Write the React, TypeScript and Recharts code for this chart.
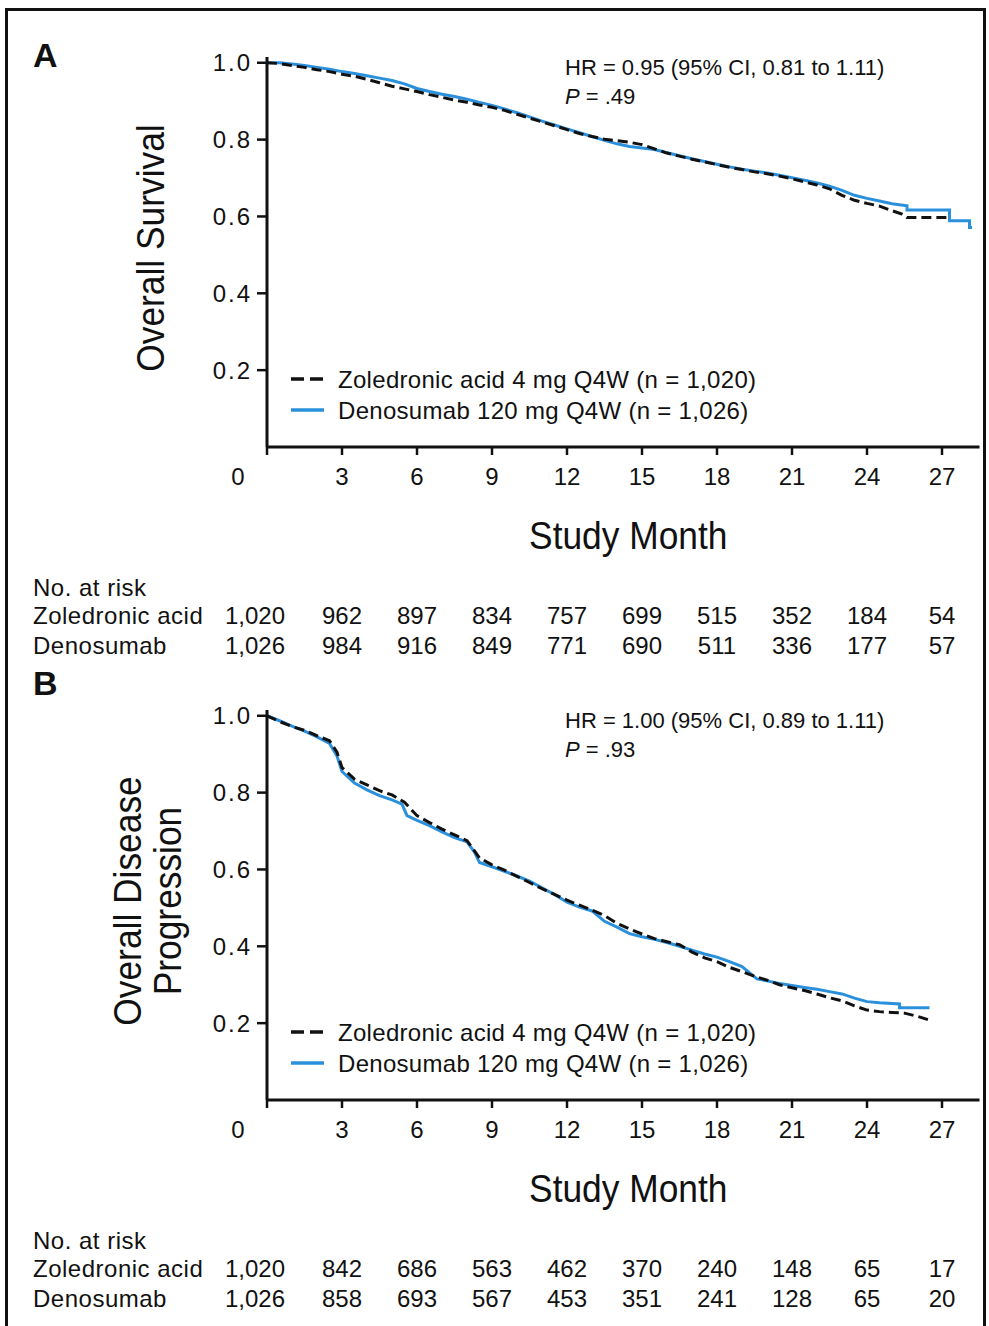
import React from 'react';
import { LineChart, Line, XAxis, YAxis, Legend, ReferenceDot } from 'recharts';

const FONT = "'Liberation Sans', Arial, Helvetica, sans-serif";
const BLUE = '#2b90dc';
const INK = '#111111';

const MONTH_TICKS = [0, 3, 6, 9, 12, 15, 18, 21, 24, 27];
const SURV_TICKS = [0.2, 0.4, 0.6, 0.8, 1.0];

const SERIES_NAMES = ['Zoledronic acid 4 mg Q4W (n = 1,020)', 'Denosumab 120 mg Q4W (n = 1,026)'];
const ARM_LABELS = ['Zoledronic acid', 'Denosumab'];

// Panel A: overall survival (month, proportion)
const A_ZOL: [number, number][] = [
  [0, 1.0], [0.5, 0.998], [1, 0.993], [1.5, 0.988], [2, 0.982], [2.5, 0.977], [3, 0.97], [3.5, 0.965],
  [4, 0.957], [4.5, 0.948], [5, 0.939], [5.5, 0.932], [6, 0.925], [6.5, 0.917], [7, 0.91], [7.5, 0.903],
  [8, 0.897], [8.5, 0.89], [9, 0.884], [9.5, 0.876], [10, 0.866], [10.5, 0.856], [11, 0.846], [11.5, 0.836],
  [12, 0.826], [12.5, 0.816], [13, 0.808], [13.5, 0.801], [14, 0.797], [14.5, 0.793], [15, 0.787], [15.5, 0.776],
  [16, 0.765], [16.5, 0.757], [17, 0.749], [17.5, 0.742], [18, 0.735], [18.5, 0.728], [19, 0.722], [19.5, 0.716],
  [20, 0.711], [20.5, 0.705], [21, 0.698], [21.5, 0.69], [22, 0.682], [22.5, 0.672], [23, 0.655], [23.5, 0.642],
  [24, 0.634], [24.5, 0.627], [25, 0.615], [25.4, 0.606], [25.6, 0.597], [27.2, 0.597],
];
const A_DEN: [number, number][] = [
  [0, 1.0], [0.5, 1.0], [1, 0.997], [1.5, 0.993], [2, 0.988], [2.5, 0.983], [3, 0.977], [3.5, 0.972],
  [4, 0.966], [4.5, 0.96], [5, 0.954], [5.5, 0.945], [6, 0.933], [6.5, 0.925], [7, 0.918], [7.5, 0.912],
  [8, 0.905], [8.5, 0.897], [9, 0.889], [9.5, 0.88], [10, 0.87], [10.5, 0.859], [11, 0.848], [11.5, 0.838],
  [12, 0.828], [12.5, 0.818], [13, 0.808], [13.5, 0.798], [14, 0.789], [14.5, 0.782], [15, 0.778], [15.5, 0.774],
  [16, 0.766], [16.5, 0.758], [17, 0.75], [17.5, 0.743], [18, 0.736], [18.5, 0.729], [19, 0.723], [19.5, 0.718],
  [20, 0.713], [20.5, 0.707], [21, 0.701], [21.5, 0.694], [22, 0.687], [22.5, 0.679], [23, 0.668], [23.5, 0.655],
  [24, 0.647], [24.5, 0.64], [25, 0.633], [25.6, 0.628], [25.6, 0.617], [27.3, 0.617], [27.3, 0.589],
  [28.1, 0.589], [28.1, 0.571], [28.2, 0.571],
];

// Panel B: overall disease progression
const B_ZOL: [number, number][] = [
  [0, 1.0], [0.5, 0.985], [1, 0.972], [1.5, 0.962], [2, 0.948], [2.5, 0.935], [2.8, 0.905], [3, 0.865],
  [3.5, 0.835], [4, 0.82], [4.5, 0.805], [5, 0.794], [5.5, 0.775], [6, 0.74], [6.5, 0.722], [7, 0.705],
  [7.5, 0.69], [8, 0.675], [8.5, 0.63], [9, 0.612], [9.5, 0.598], [10, 0.582], [10.5, 0.566], [11, 0.55],
  [11.5, 0.535], [12, 0.52], [12.5, 0.507], [13, 0.494], [13.5, 0.48], [14, 0.46], [14.5, 0.445], [15, 0.432],
  [15.5, 0.42], [16, 0.412], [16.5, 0.404], [17, 0.385], [17.5, 0.37], [18, 0.36], [18.5, 0.345], [19, 0.334],
  [19.5, 0.322], [20, 0.312], [20.5, 0.3], [21, 0.292], [21.5, 0.285], [22, 0.276], [22.5, 0.266], [23, 0.258],
  [23.5, 0.245], [24, 0.234], [24.5, 0.23], [25, 0.228], [25.5, 0.226], [26, 0.218], [26.5, 0.208],
];
const B_DEN: [number, number][] = [
  [0, 1.0], [0.5, 0.987], [1, 0.973], [1.5, 0.96], [2, 0.945], [2.5, 0.928], [2.8, 0.895], [3, 0.855],
  [3.5, 0.825], [4, 0.807], [4.5, 0.792], [5, 0.781], [5.4, 0.77], [5.6, 0.74], [6, 0.728], [6.5, 0.714],
  [7, 0.698], [7.5, 0.683], [8, 0.672], [8.3, 0.645], [8.5, 0.618], [9, 0.607], [9.5, 0.595], [10, 0.583],
  [10.5, 0.57], [11, 0.552], [11.5, 0.535], [12, 0.515], [12.5, 0.502], [13, 0.492], [13.5, 0.465], [14, 0.45],
  [14.5, 0.433], [15, 0.425], [15.5, 0.418], [16, 0.41], [16.5, 0.4], [17, 0.39], [17.5, 0.38], [18, 0.372],
  [18.5, 0.36], [19, 0.347], [19.6, 0.315], [20, 0.31], [20.5, 0.303], [21, 0.298], [21.5, 0.293], [22, 0.288],
  [22.5, 0.282], [23, 0.276], [23.5, 0.265], [24, 0.256], [24.5, 0.253], [25.3, 0.25], [25.3, 0.24],
  [26.5, 0.24],
];

const A_RISK_ZOL = [1020, 962, 897, 834, 757, 699, 515, 352, 184, 54];
const A_RISK_DEN = [1026, 984, 916, 849, 771, 690, 511, 336, 177, 57];
const B_RISK_ZOL = [1020, 842, 686, 563, 462, 370, 240, 148, 65, 17];
const B_RISK_DEN = [1026, 858, 693, 567, 453, 351, 241, 128, 65, 20];

const A_STATS = ['HR = 0.95 (95% CI, 0.81 to 1.11)', ' = .49'];
const B_STATS = ['HR = 1.00 (95% CI, 0.89 to 1.11)', ' = .93'];

const toPoints = (arr: [number, number][]) => arr.map(([t, s]) => ({ t, s }));
const fmt = (n: number) => n.toLocaleString('en-US');

const MonthTick = (props: any) => {
  const { x, y, payload } = props;
  const v = payload.value;
  return (
    <text x={v === 0 ? x - 29 : x} y={y + 30} textAnchor="middle" fontSize={24} fontFamily={FONT} fill={INK}>
      {v}
    </text>
  );
};

const SurvTick = (props: any) => {
  const { x, y, payload } = props;
  return (
    <text x={x} y={y + 8.5} textAnchor="end" fontSize={24} fontFamily={FONT} fill={INK} letterSpacing={2}>
      {Number(payload.value).toFixed(1)}
    </text>
  );
};

const makeRiskTick = (zol: number[], den: number[]) => (props: any) => {
  const { x, y, payload } = props;
  const i = MONTH_TICKS.indexOf(payload.value);
  const first = i === 0;
  const nx = first ? x - 42 : x;
  const anchor = first ? 'start' : 'middle';
  const common = { fontSize: 24, fontFamily: FONT, fill: INK };
  return (
    <g>
      {first && (
        <>
          <text x={x - 234} y={y + 29} {...common} letterSpacing={0.5}>No. at risk</text>
          <text x={x - 234} y={y + 57} {...common} letterSpacing={0.5}>{ARM_LABELS[0]}</text>
          <text x={x - 234} y={y + 87} {...common} letterSpacing={0.5}>{ARM_LABELS[1]}</text>
        </>
      )}
      <text x={nx} y={y + 57} textAnchor={anchor} {...common}>{fmt(zol[i])}</text>
      <text x={nx} y={y + 87} textAnchor={anchor} {...common}>{fmt(den[i])}</text>
    </g>
  );
};

const SERIES_STYLE = [
  { color: INK, legendDash: '13 6' },
  { color: BLUE, legendDash: undefined },
];

const LegendBox = () => (
  <svg width={520} height={66} style={{ display: 'block', overflow: 'visible' }}>
    {SERIES_NAMES.map((name, i) => {
      const yy = 17 + i * 31;
      return (
        <g key={name}>
          <line x1={5} x2={38} y1={yy} y2={yy} stroke={SERIES_STYLE[i].color} strokeWidth={3.5}
            strokeDasharray={SERIES_STYLE[i].legendDash} />
          <text x={52} y={yy + 8.5} fontSize={24} fontFamily={FONT} fill={INK} letterSpacing={0.3}>{name}</text>
        </g>
      );
    })}
  </svg>
);

type PanelProps = {
  zol: [number, number][];
  den: [number, number][];
  riskZol: number[];
  riskDen: number[];
  stats: string[];
  yLines: string[];
  height: number;
};

const Panel = ({ zol, den, riskZol, riskDen, stats, yLines, height }: PanelProps) => {
  const zolPts = toPoints(zol);
  const denPts = toPoints(den);
  const yLabel = (props: any) => {
    const vb = props.viewBox;
    const cy = vb.y + vb.height / 2 - 4;
    const offs = yLines.length === 1 ? [-2] : [-25, 15];
    return (
      <g>
        {yLines.map((ln, i) => (
          <text key={ln} transform={`translate(${vb.x + offs[i]},${cy}) rotate(-90) scale(0.93,1)`}
            x={0} y={13.6} textAnchor="middle" fontSize={38} fontFamily={FONT} fill={INK}>{ln}</text>
        ))}
      </g>
    );
  };
  const xLabel = (props: any) => {
    const vb = props.viewBox;
    const cx = vb.x + vb.width / 2 + 5;
    return (
      <text transform={`translate(${cx},${vb.y + 102}) scale(0.93,1)`} x={0} y={0} textAnchor="middle"
        fontSize={38} fontFamily={FONT} fill={INK}>Study Month</text>
    );
  };
  const statsLabel = (props: any) => {
    const vb = props.viewBox;
    const sx = vb.x - 2;
    return (
      <g>
        <text x={sx} y={vb.y + 12} fontSize={22} fontFamily={FONT} fill={INK}>{stats[0]}</text>
        <text x={sx} y={vb.y + 41} fontSize={22} fontFamily={FONT} fill={INK}>
          <tspan fontStyle="italic">P</tspan>{stats[1]}
        </text>
      </g>
    );
  };
  return (
    <LineChart width={989} height={height} margin={{ top: 57, right: 9.5, left: 152, bottom: height - 653 }}>
      <XAxis xAxisId="main" type="number" dataKey="t" domain={[0, 28.5]} allowDataOverflow ticks={MONTH_TICKS}
        interval={0} axisLine={{ stroke: INK, strokeWidth: 3 }} tickLine={{ stroke: INK, strokeWidth: 2.5 }}
        tickSize={8} tickMargin={0} height={120} tick={<MonthTick />} label={xLabel} />
      <XAxis xAxisId="risk" type="number" dataKey="t" domain={[0, 28.5]} allowDataOverflow ticks={MONTH_TICKS}
        interval={0} axisLine={false} tickLine={false} tickSize={0} tickMargin={0} height={86}
        tick={makeRiskTick(riskZol, riskDen)} />
      <YAxis type="number" domain={[0, 1.015]} allowDataOverflow ticks={SURV_TICKS} width={115}
        axisLine={{ stroke: INK, strokeWidth: 3 }} tickLine={{ stroke: INK, strokeWidth: 2.5 }} tickSize={10}
        tickMargin={5} tick={<SurvTick />} label={yLabel} />
      <Legend layout="vertical" align="center" verticalAlign="middle" content={<LegendBox />}
        wrapperStyle={{ left: 286, top: 362, width: 520, height: 66 }} />
      <Line xAxisId="main" data={denPts} dataKey="s" name={SERIES_NAMES[1]} type="linear" stroke={BLUE}
        strokeWidth={3} dot={false} activeDot={false} isAnimationActive={false} />
      <Line xAxisId="main" data={zolPts} dataKey="s" name={SERIES_NAMES[0]} type="linear" stroke={INK}
        strokeWidth={3} strokeDasharray="10 5" dot={false} activeDot={false} isAnimationActive={false} />
      <ReferenceDot xAxisId="main" x={12} y={1.0} r={0} fill="none" stroke="none" label={statsLabel} />
    </LineChart>
  );
};

export default function App() {
  return (
    <div style={{ position: 'absolute', left: 0, top: 0, width: 989, height: 1326, background: '#fff', overflow: 'hidden' }}>
      <div style={{ position: 'absolute', left: 0, top: 0 }}>
        <Panel zol={A_ZOL} den={A_DEN} riskZol={A_RISK_ZOL} riskDen={A_RISK_DEN} stats={A_STATS}
          yLines={['Overall Survival']} height={672} />
      </div>
      <div style={{ position: 'absolute', left: 0, top: 653 }}>
        <Panel zol={B_ZOL} den={B_DEN} riskZol={B_RISK_ZOL} riskDen={B_RISK_DEN} stats={B_STATS}
          yLines={['Overall Disease', 'Progression']} height={673} />
      </div>
      <svg width={989} height={1326} style={{ position: 'absolute', left: 0, top: 0, pointerEvents: 'none' }}>
        <rect x={6.5} y={9.5} width={978} height={1340} fill="none" stroke={INK} strokeWidth={3} />
        <text x={33} y={67} fontSize={34} fontWeight="bold" fontFamily={FONT} fill={INK}>A</text>
        <text x={33} y={695} fontSize={34} fontWeight="bold" fontFamily={FONT} fill={INK}>B</text>
      </svg>
    </div>
  );
}
